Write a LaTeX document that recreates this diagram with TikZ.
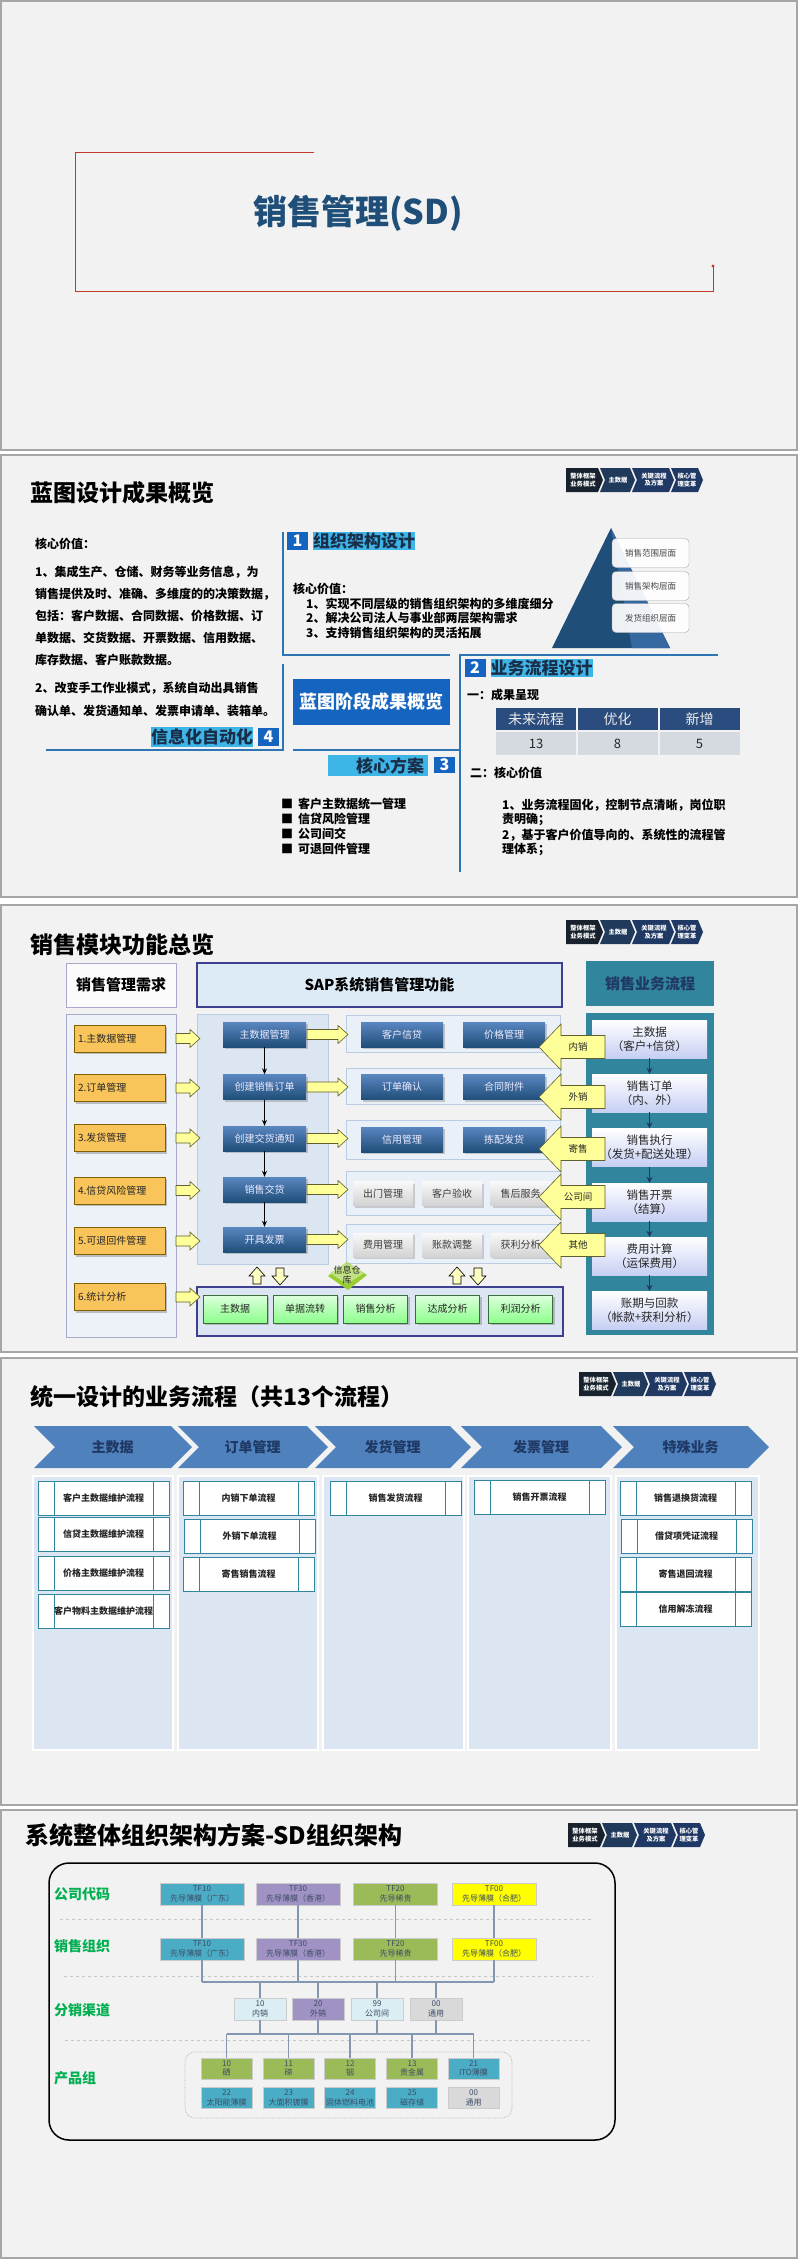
\documentclass[tikz,border=0pt]{standalone}
\usepackage{fontspec}
\setmainfont{Noto Sans CJK SC}
\usetikzlibrary{shadows,calc,arrows.meta}
\newcommand\fz[2]{\fontsize{#1}{#2}\selectfont}
\definecolor{slidebg}{HTML}{F2F2F2}
\definecolor{slidebd}{HTML}{A6A6A6}
\definecolor{redl}{HTML}{C0392B}
\definecolor{titleblue}{HTML}{1F4E79}
\definecolor{secblue}{HTML}{1565C0}
\definecolor{cyanhl}{HTML}{3DB5E6}
\definecolor{navyt}{HTML}{1A2E4A}
\definecolor{lineblue}{HTML}{2E75B6}
\definecolor{navA}{HTML}{18222E}
\definecolor{navB}{HTML}{203A5C}
\definecolor{navC}{HTML}{1F3864}
\definecolor{pyr}{HTML}{1F4E79}
\definecolor{pyrl}{HTML}{3568A0}
\definecolor{tabhead}{HTML}{2B4C7E}
\definecolor{tabrow}{HTML}{D5D9E0}
\definecolor{orangef}{HTML}{F9C55B}
\definecolor{orangeb}{HTML}{7F6000}
\definecolor{yarrf}{HTML}{FFFF99}
\definecolor{yarrb}{HTML}{5F5F2F}
\definecolor{bboxt}{HTML}{5A86C0}
\definecolor{bboxb}{HTML}{1F4E79}
\definecolor{lpanel}{HTML}{DCE6F2}
\definecolor{lpanelb}{HTML}{B8CCE4}
\definecolor{saphf}{HTML}{DDEBF7}
\definecolor{purpb}{HTML}{3F3F8F}
\definecolor{tealc}{HTML}{31859C}
\definecolor{greenf}{HTML}{C6FFC6}
\definecolor{greenb}{HTML}{3A6B3A}
\definecolor{chevf}{HTML}{4F81BD}
\definecolor{procb}{HTML}{31859C}
\definecolor{orgteal}{HTML}{4BACC6}
\definecolor{orgpurp}{HTML}{A092C4}
\definecolor{orggreen}{HTML}{9BBB59}
\definecolor{orgyel}{HTML}{FFFF00}
\definecolor{orglight}{HTML}{DAEEF3}
\definecolor{orggrey}{HTML}{D9D9D9}
\definecolor{connc}{HTML}{8497B0}
\definecolor{lblgreen}{HTML}{00B050}
\definecolor{limeg}{HTML}{9ACD32}
\definecolor{darkt}{HTML}{262626}
\tikzset{
  navbar/.pic={
    \fill[navA] (0,0) -- (32,0) -- (37,12) -- (32,24) -- (0,24) -- cycle;
    \fill[navB] (34,0) -- (64,0) -- (69,12) -- (64,24) -- (34,24) -- (39,12) -- cycle;
    \fill[navC] (66,0) -- (103,0) -- (108,12) -- (103,24) -- (66,24) -- (71,12) -- cycle;
    \fill[navC] (105,0) -- (132,0) -- (137,12) -- (132,24) -- (105,24) -- (110,12) -- cycle;
    \node[navt] (-a) at (17,12) {整体框架\\业务模式};
    \node[navt] (-b) at (52,12) {主数据};
    \node[navt] (-c) at (88,12) {关键流程\\及方案};
    \node[navt] (-d) at (121,12) {核心管\\理变革};
  },
  pics/yarr/.style={code={
    \filldraw[fill=yarrf, draw=yarrb, line width=0.6pt] (0,-5) -- (#1-10,-5) -- (#1-10,-9) -- (#1,0) -- (#1-10,9) -- (#1-10,5) -- (0,5) -- cycle;}},
  pics/bigarr/.style={code={
    \filldraw[fill=yarrf, draw=yarrb, line width=0.6pt] (0,0) -- (22,-23) -- (22,-11.5) -- (#1,-11.5) -- (#1,11.5) -- (22,11.5) -- (22,23) -- cycle;}},
  pics/uparr/.style={code={
    \filldraw[fill=yarrf!60!white, draw=black, line width=0.6pt] (-4,8) -- (-4,0) -- (-8,0) -- (0,-9) -- (8,0) -- (4,0) -- (4,8) -- cycle;}},
  pics/dnarr/.style={code={
    \filldraw[fill=yarrf!60!white, draw=black, line width=0.6pt] (-4,-8) -- (-4,0) -- (-8,0) -- (0,9) -- (8,0) -- (4,0) -- (4,-8) -- cycle;}},
}
\begin{document}
\begin{tikzpicture}[x=1pt,y=-1pt,
  every node/.style={inner sep=0pt},
  slide/.style={fill=slidebg, draw=slidebd, line width=2pt},
  navt/.style={text=white, font=\fz{6.3}{7.2}\bfseries, align=center},
  ttl/.style={anchor=west, font=\fz{23}{28}\bfseries, text=black},
  body/.style={anchor=west, font=\fz{12}{14}\bfseries, text=black},
  numsq/.style={fill=secblue, text=white, font=\fz{16}{18}\bfseries, minimum width=21pt, minimum height=18pt},
  hl/.style={fill=cyanhl, text=navyt, font=\fz{17}{19}\bfseries, minimum height=18pt},
  secline/.style={draw=lineblue, line width=1.5pt},
  pyrbox/.style={rounded corners=4pt, fill=white, fill opacity=0.92, text opacity=1, draw=gray!70, minimum width=77pt, minimum height=29pt, font=\fz{8.5}{10}, text=darkt!85},
  th/.style={fill=tabhead, text=white!85!gray, font=\fz{14}{16}, minimum width=80pt, minimum height=22pt},
  td/.style={fill=tabrow, text=darkt, font=\fz{13}{15}, minimum width=80pt, minimum height=23pt},
  obox/.style={fill=orangef, draw=orangeb, line width=0.6pt, minimum height=27pt, text width=83pt, inner xsep=4pt, align=left, font=\fz{10}{12}, text=darkt, drop shadow={opacity=0.45, shadow xshift=2pt, shadow yshift=-2pt}},
  bbox/.style={top color=bboxt, bottom color=bboxb, text=white!92!blue, font=\fz{10}{12}, minimum height=25pt, drop shadow={opacity=0.4, shadow xshift=2pt, shadow yshift=-2pt}},
  gbox/.style={top color=white!95!gray, bottom color=gray!35, text=darkt!90, font=\fz{10}{12}, minimum width=60pt, minimum height=24pt, drop shadow={opacity=0.35, shadow xshift=2pt, shadow yshift=-2pt}},
  grbox/.style={top color=greenf!60!white, bottom color=green!45!white, draw=greenb, line width=0.6pt, text=darkt, font=\fz{10}{12}, minimum width=64pt, minimum height=28pt, drop shadow={opacity=0.45, shadow xshift=2pt, shadow yshift=-2pt}},
  fbox/.style={top color=white, bottom color=lpanel!90!blue, text=darkt, font=\fz{11.5}{14}, align=center, minimum width=115pt, minimum height=38pt},
  chevt/.style={font=\fz{14}{16}\bfseries, text=navC},
  pbox/.style={fill=white, draw=procb, line width=0.8pt, minimum width=131pt, minimum height=34pt, font=\fz{9}{11}\bfseries, text=darkt,
    path picture={\draw[procb, line width=0.8pt] ([xshift=16pt]path picture bounding box.north west) -- ([xshift=16pt]path picture bounding box.south west);
                  \draw[procb, line width=0.8pt] ([xshift=-16pt]path picture bounding box.north east) -- ([xshift=-16pt]path picture bounding box.south east);}},
  ob/.style={minimum width=84pt, minimum height=22pt, font=\fz{8}{9.5}, align=center, text=navyt!85, draw=white!60!gray, line width=0.4pt},
  cb/.style={minimum width=52pt, minimum height=22pt, font=\fz{8}{9.5}, align=center, text=navyt!85, draw=white!60!gray, line width=0.4pt},
  orglbl/.style={anchor=west, font=\fz{14}{16}\bfseries, text=lblgreen},
  conn/.style={draw=connc, line width=1.2pt},
]
\useasboundingbox (0,0) rectangle (800,2259);
\fill[white] (0,0) rectangle (800,2259);

%% ================= Slide 1
\draw[slide] (1,1) rectangle (797,450);
\draw[redl, line width=0.9pt] (314,152) -- (75,152) -- (75,291) -- (713,291) -- (713,266);
\fill[redl] (713,266) circle (1.6);
\node[font=\fz{34}{40}\bfseries, text=titleblue] (t1) at (358,213) {销售管理(SD)};

%% ================= Slide 2
\draw[slide] (1,455) rectangle (797,897);
\node[ttl] (t2) at (30,493) {蓝图设计成果概览};
\pic (nav2) at (566,468) {navbar};

\foreach \yy/\txt [count=\i] in {544/核心价值：,
  572/{1、集成生产、仓储、财务等业务信息，为},
  594/{销售提供及时、准确、多维度的的决策数据，},
  616/{包括：客户数据、合同数据、价格数据、订},
  638/{单数据、交货数据、开票数据、信用数据、},
  660/{库存数据、客户账款数据。},
  688/{2、改变手工作业模式，系统自动出具销售},
  711/{确认单、发货通知单、发票申请单、装箱单。}}
  \node[body] (lp\i) at (35,\yy) {\txt};

\draw[secline] (46,750) -- (283,750) -- (283,664);
\draw[secline] (283,532) -- (283,655) -- (450,655);
\draw[secline] (293,750) -- (460,750);
\draw[secline] (460,872) -- (460,655) -- (718,655);

\node[numsq] (n1) at (297.5,541) {1};
\node[hl, minimum width=102pt] (h1) at (364,541) {组织架构设计};
\node[numsq] (n2) at (475,668) {2};
\node[hl, minimum width=101pt] (h2) at (541.5,668) {业务流程设计};
\node[hl, minimum width=100pt, minimum height=21pt, text width=92pt, align=right] (h3) at (378,765.5) {核心方案};
\node[numsq, minimum height=16pt] (n3) at (444.5,765) {3};
\node[hl, minimum width=100pt, minimum height=20pt] (h4) at (202,737) {信息化自动化};
\node[numsq] (n4) at (268.5,737) {4};

\node[fill=secblue, text=white, font=\fz{18}{20}\bfseries, minimum width=157pt, minimum height=46pt] (cbx) at (371.5,702) {蓝图阶段成果概览};

\node[body] (s1a) at (293,589) {核心价值：};
\node[body] (s1b) at (306,604) {1、实现不同层级的销售组织架构的多维度细分};
\node[body] (s1c) at (306,618) {2、解决公司法人与事业部两层架构需求};
\node[body] (s1d) at (306,633) {3、支持销售组织架构的灵活拓展};

\fill[pyr] (611,528) -- (670,648) -- (552,648) -- cycle;
\fill[pyrl] (611,528) -- (670,648) -- (632,648) -- cycle;
\node[pyrbox] (py1) at (650.5,553) {销售范围层面};
\node[pyrbox] (py2) at (650.5,586) {销售架构层面};
\node[pyrbox] (py3) at (650.5,618) {发货组织层面};

\node[body] (s2a) at (467,695) {一：成果呈现};
\node[th] (th1) at (536,719) {未来流程};
\node[th] (th2) at (617.5,719) {优化};
\node[th] (th3) at (699.5,719) {新增};
\node[td] (td1) at (536,743.5) {13};
\node[td] (td2) at (617.5,743.5) {8};
\node[td] (td3) at (699.5,743.5) {5};
\node[body] (s2b) at (470,773) {二：核心价值};
\node[body] (s2c) at (502,805) {1、业务流程固化，控制节点清晰，岗位职};
\node[body] (s2d) at (502,819) {责明确；};
\node[body] (s2e) at (502,835) {2，基于客户价值导向的、系统性的流程管};
\node[body] (s2f) at (502,849) {理体系；};

\foreach \yy/\txt [count=\i] in {804/客户主数据统一管理, 819/信贷风险管理, 834/公司间交, 849/可退回件管理}
  \node[body] (bl\i) at (281,\yy) {■\hspace{5pt}\txt};

%% ================= Slide 3
\draw[slide] (1,905) rectangle (797,1352);
\node[ttl] (t3) at (30,945) {销售模块功能总览};
\pic (nav3) at (566,920) {navbar};

\node[fill=white!97!gray, draw=purpb!45, line width=0.8pt, minimum width=110pt, minimum height=44pt, font=\fz{15}{17}\bfseries] (lh) at (121,985) {销售管理需求};
\node[fill=lpanel!50!white, draw=purpb!45, line width=0.8pt, minimum width=110pt, minimum height=323pt] (lb) at (121,1175.5) {};
\node[fill=saphf, draw=purpb, line width=1.2pt, minimum width=365pt, minimum height=44pt, font=\fz{15}{17}\bfseries] (sh) at (379.5,985) {SAP系统销售管理功能};
\node[fill=lpanel, draw=lpanelb, line width=0.6pt, minimum width=131pt, minimum height=250pt] (mp) at (262.5,1139) {};
\foreach \yy/\hh [count=\i] in {1033.5/37, 1086/36, 1139.5/39, 1193/44, 1243.5/39}
  \node[fill=lpanel!60!white, draw=lpanelb, line width=0.6pt, minimum width=214pt, minimum height=\hh pt] (rp\i) at (453,\yy) {};
\node[fill=lpanel, draw=purpb, line width=1.2pt, minimum width=366pt, minimum height=49pt] (bp) at (380,1311.5) {};

\node[fill=tealc, minimum width=128pt, minimum height=45pt, font=\fz{15}{17}\bfseries, text=navC] (rh) at (650,983.5) {销售业务流程};
\node[fill=tealc, minimum width=128pt, minimum height=322pt] (rb) at (650,1174) {};

\foreach \yy/\txt [count=\i] in {1038.5/1.主数据管理, 1088/2.订单管理, 1138/3.发货管理, 1190.5/4.信贷风险管理, 1241/5.可退回件管理, 1297/6.统计分析}
  \node[obox] (o\i) at (119.5,\yy) {\txt};
\foreach \yy in {1038.5, 1088, 1138, 1190.5, 1241, 1297}
  \pic at (176,\yy) {yarr=24};

\foreach \yy/\txt [count=\i] in {1034.5/主数据管理, 1087/创建销售订单, 1138.5/创建交货通知, 1189.5/销售交货, 1239.5/开具发票}
  \node[bbox, minimum width=83pt] (m\i) at (264.5,\yy) {\txt};
\foreach \i/\j in {1/2, 2/3, 3/4, 4/5}
  \draw[-{Stealth[length=6pt,width=5pt]}, line width=0.9pt] (m\i) -- (m\j);
\foreach \yy in {1034.5, 1087, 1138.5, 1189.5, 1239.5}
  \pic at (307,\yy) {yarr=41};

\node[bbox, minimum width=82pt] (r1a) at (402,1034.5) {客户信贷};
\node[bbox, minimum width=82pt] (r1b) at (504,1034.5) {价格管理};
\node[bbox, minimum width=82pt] (r2a) at (402,1087) {订单确认};
\node[bbox, minimum width=82pt] (r2b) at (504,1087) {合同附件};
\node[bbox, minimum width=82pt] (r3a) at (402,1139.5) {信用管理};
\node[bbox, minimum width=82pt] (r3b) at (504,1139.5) {拣配发货};
\node[gbox] (r4a) at (383,1193.5) {出门管理};
\node[gbox] (r4b) at (452,1193.5) {客户验收};
\node[gbox] (r4c) at (520.5,1193.5) {售后服务};
\node[gbox] (r5a) at (383,1245) {费用管理};
\node[gbox] (r5b) at (452,1245) {账款调整};
\node[gbox] (r5c) at (520.5,1245) {获利分析};

\pic at (257,1276) {uparr};
\pic at (280,1276) {dnarr};
\pic at (457,1276) {uparr};
\pic at (478,1276) {dnarr};

\fill[limeg] (328,1276) -- (347,1262) -- (367,1275) -- (348,1290) -- cycle;
\fill[limeg!60!white] (330,1273) -- (347,1263) -- (364,1273) -- (347,1284) -- cycle;
\node[font=\fz{9}{10}, align=center, text=darkt] (ck) at (347,1275) {信息仓\\库};

\foreach \xx/\txt [count=\i] in {235/主数据, 305/单据流转, 375.5/销售分析, 447.5/达成分析, 520.5/利润分析}
  \node[grbox] (g\i) at (\xx,1309) {\txt};

\foreach \yy/\txt [count=\i] in {1039/{主数据\\（客户+信贷）}, 1093/{销售订单\\（内、外）}, 1147.5/{销售执行\\（发货+配送处理）}, 1202/{销售开票\\（结算）}, 1256/{费用计算\\（运保费用）}, 1310/{账期与回款\\（帐款+获利分析）}}
  \node[fbox] (f\i) at (649.5,\yy) {\txt};
\foreach \i/\j in {1/2, 2/3, 3/4, 4/5, 5/6}
  \draw[-{Stealth[length=6pt,width=6pt]}, navC, line width=1.3pt] (f\i) -- (f\j);

\foreach \yy/\txt [count=\i] in {1047/内销, 1097/外销, 1149/寄售, 1197/公司间, 1245/其他}
  {\pic at (539,\yy) {bigarr=66};
   \node[font=\fz{9.5}{11}, text=darkt] (ba\i) at (578,\yy) {\txt};}

%% ================= Slide 4
\draw[slide] (1,1358) rectangle (797,1805);
\node[ttl] (t4) at (30,1397) {统一设计的业务流程（共13个流程）};
\pic (nav4) at (579,1372) {navbar};

\foreach \L/\R/\txt [count=\i] in {34/171/主数据, 178/307/订单管理, 315/450/发货管理, 461/601/发票管理, 613/748/特殊业务}
  {\fill[chevf] (\L,1426) -- (\R,1426) -- (\R+21,1447) -- (\R,1468) -- (\L,1468) -- (\L+21,1447) -- cycle;
   \node[chevt] (cv\i) at ({(\L+\R)/2+10},1447) {\txt};}

\foreach \a/\b in {33/173, 178/318, 323/464, 468/611, 616/759}
  \draw[fill=lpanel, draw=white, line width=2pt] (\a,1476) rectangle (\b,1750);

\foreach \xx/\yy/\txt [count=\i] in {
  103.5/1498/客户主数据维护流程, 103.5/1534.5/信贷主数据维护流程, 103.5/1573.5/价格主数据维护流程, 103.5/1611/客户物料主数据维护流程,
  248.5/1498.5/内销下单流程, 249.5/1536/外销下单流程, 248.5/1574/寄售销售流程,
  395.5/1498.5/销售发货流程,
  539.5/1497.5/销售开票流程,
  685.5/1498/销售退换货流程, 686.5/1536/借贷项凭证流程, 685.5/1574/寄售退回流程, 685.5/1609.5/信用解冻流程}
  \node[pbox] (prc\i) at (\xx,\yy) {\txt};

%% ================= Slide 5
\draw[slide] (1,1810) rectangle (797,2258);
\node[ttl, font=\fz{24}{28}\bfseries] (t5) at (25,1835) {系统整体组织架构方案-SD组织架构};
\pic (nav5) at (568,1823) {navbar};

\draw[black, line width=1.5pt, rounded corners=20pt] (49,1863) rectangle (615,2140);
\node[orglbl] (lb1) at (54,1894) {公司代码};
\node[orglbl] (lb2) at (54,1946) {销售组织};
\node[orglbl] (lb3) at (54,2010) {分销渠道};
\node[orglbl] (lb4) at (54,2078) {产品组};
\draw[gray!45, dashed, line width=0.8pt] (60,1919) -- (593,1919);
\draw[gray!45, dashed, line width=0.8pt] (64,1976) -- (593,1976);
\draw[gray!45, dashed, line width=0.8pt] (65,2040) -- (593,2040);
\draw[gray!55, densely dotted, line width=0.8pt, rounded corners=10pt] (185,2052) rectangle (512,2118);

\node[ob, fill=orgteal] (c1) at (202,1894) {TF10\\先导薄膜（广东）};
\node[ob, fill=orgpurp] (c2) at (298,1894) {TF30\\先导薄膜（香港）};
\node[ob, fill=orggreen] (c3) at (395.5,1894) {TF20\\先导稀贵};
\node[ob, fill=orgyel] (c4) at (494,1894) {TF00\\先导薄膜（合肥）};
\node[ob, fill=orgteal] (s1) at (202,1949) {TF10\\先导薄膜（广东）};
\node[ob, fill=orgpurp] (s2) at (298,1949) {TF30\\先导薄膜（香港）};
\node[ob, fill=orggreen] (s3) at (395.5,1949) {TF20\\先导稀贵};
\node[ob, fill=orgyel] (s4) at (494,1949) {TF00\\先导薄膜（合肥）};

\node[cb, fill=orglight] (ch1) at (260,2009) {10\\内销};
\node[cb, fill=orgpurp] (ch2) at (318,2009) {20\\外销};
\node[cb, fill=orglight] (ch3) at (377,2009) {99\\公司间};
\node[cb, fill=orggrey] (ch4) at (436,2009) {00\\通用};

\node[cb, minimum width=51pt, minimum height=21pt, fill=orggreen] (p1) at (226.5,2068.5) {10\\硒};
\node[cb, minimum width=51pt, minimum height=21pt, fill=orggreen] (p2) at (288.5,2068.5) {11\\碲};
\node[cb, minimum width=51pt, minimum height=21pt, fill=orggreen] (p3) at (350,2068.5) {12\\铟};
\node[cb, minimum width=51pt, minimum height=21pt, fill=orggreen] (p4) at (412,2068.5) {13\\贵金属};
\node[cb, minimum width=51pt, minimum height=21pt, fill=orgteal] (p5) at (473.5,2068.5) {21\\ITO薄膜};
\node[cb, minimum width=51pt, minimum height=21pt, fill=orgteal] (q1) at (226.5,2098) {22\\太阳能薄膜};
\node[cb, minimum width=51pt, minimum height=21pt, fill=orgteal] (q2) at (288.5,2098) {23\\大面积镀膜};
\node[cb, minimum width=51pt, minimum height=21pt, fill=orgteal] (q3) at (350,2098) {24\\固体燃料电池};
\node[cb, minimum width=51pt, minimum height=21pt, fill=orgteal] (q4) at (412,2098) {25\\磁存储};
\node[cb, minimum width=51pt, minimum height=21pt, fill=orggrey] (q5) at (473.5,2098) {00\\通用};

\coordinate (busA) at (348,1982);
\coordinate (busB) at (350,2034);
\foreach \i in {1,2,3,4} {
  \draw[conn] (c\i) -- (s\i);
  \draw[conn] (s\i.south) -- (s\i.south |- busA);
  \draw[conn] (ch\i.north) -- (ch\i.north |- busA);
  \draw[conn] (ch\i.south) -- (ch\i.south |- busB);
}
\draw[conn] (s1.south |- busA) -- (s4.south |- busA);
\foreach \i in {1,2,3,4,5}
  \draw[conn] (p\i.north) -- (p\i.north |- busB);
\draw[conn] (p1.north |- busB) -- (p5.north |- busB);
\end{tikzpicture}
\end{document}
